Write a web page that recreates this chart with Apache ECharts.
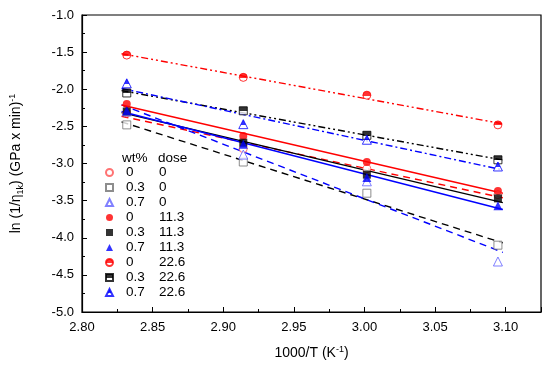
<!DOCTYPE html>
<html>
<head>
<meta charset="utf-8">
<script src="https://cdn.jsdelivr.net/npm/echarts@6/dist/echarts.min.js"></script>
<style>
html,body{margin:0;padding:0;background:#fff;}
#chart{width:550px;height:370px;}
</style>
</head>
<body>
<div id="chart"></div>
<script>
// ---- data ----
const xValues = [2.8317, 2.9142, 3.0017, 3.0945]; // 1000/T
const wtLabels   = ['0', '0.3', '0.7', '0', '0.3', '0.7', '0', '0.3', '0.7'];
const doseLabels = ['0', '0', '0', '11.3', '11.3', '11.3', '22.6', '22.6', '22.6'];
const y_0_0     = [-2.32, -2.80, -3.07, -3.42];
const y_03_0    = [-2.48, -2.98, -3.40, -4.10];
const y_07_0    = [-2.30, -2.88, -3.24, -4.32];
const y_0_113   = [-2.20, -2.63, -2.98, -3.37];
const y_03_113  = [-2.30, -2.72, -3.15, -3.47];
const y_07_113  = [-2.29, -2.74, -3.19, -3.57];
const y_0_226   = [-1.54, -1.84, -2.08, -2.48];
const y_03_226  = [-2.05, -2.29, -2.62, -2.95];
const y_07_226  = [-1.92, -2.47, -2.68, -3.04];
const yTickLabels = ['-5.0','-4.5','-4.0','-3.5','-3.0','-2.5','-2.0','-1.5','-1.0'];
const xTickLabels = ['2.80','2.85','2.90','2.95','3.00','3.05','3.10'];
const fitRange = [2.828, 3.098];

const allY = [y_0_0, y_03_0, y_07_0, y_0_113, y_03_113, y_07_113, y_0_226, y_03_226, y_07_226];

// ---- styles ----
const RED = '#ff0000', BLK = '#000000', BLU = '#0000ff';
const colors = [RED, BLK, BLU, RED, BLK, BLU, RED, BLK, BLU];
const openColors = ['#ff5050', '#707070', '#6060ff'];
const shapes = ['circle', 'rect', 'triangle'];
function halfFill(c) {
  return {type:'linear', x:0, y:0, x2:0, y2:1, colorStops:[
    {offset:0, color:c},{offset:0.55, color:c},{offset:0.55, color:'#fff'},{offset:1, color:'#fff'}]};
}
const dashDotDot = [7,3,2,3,2,3];
const dashDot = [7,3,2,3];
const lineTypes = [[7,5],[7,5],[7,5],'solid','solid','solid',dashDotDot,dashDotDot,dashDot];

function fit(xs, ys) {
  const n = xs.length;
  const mx = xs.reduce((a,b)=>a+b,0)/n, my = ys.reduce((a,b)=>a+b,0)/n;
  let sxy = 0, sxx = 0;
  for (let i=0;i<n;i++){ sxy += (xs[i]-mx)*(ys[i]-my); sxx += (xs[i]-mx)*(xs[i]-mx); }
  const b = sxy/sxx, a = my - b*mx;
  return fitRange.map(x => [x, a + b*x]);
}

const series = [];
const legendNames = [];
allY.forEach((ys, i) => {
  const name = wtLabels[i] + ' ' + doseLabels[i];
  legendNames.push(name);
  series.push({
    name: 'fit' + i, type: 'line', data: fit(xValues, ys), showSymbol: false, symbol: 'none',
    lineStyle: {color: colors[i], width: 1.4, type: lineTypes[i]}, z: 2, silent: true
  });
});
allY.forEach((ys, i) => {
  const name = wtLabels[i] + ' ' + doseLabels[i];
  const k = i % 3, group = Math.floor(i / 3);
  let itemStyle;
  if (group === 0) itemStyle = {color:'#fff', borderColor: openColors[k], borderWidth: 1};
  else if (group === 1) itemStyle = {color: colors[i], borderColor: colors[i], borderWidth: 0};
  else itemStyle = {color: halfFill(colors[i]), borderColor: colors[i], borderWidth: 1};
  series.push({
    name: name, type: 'scatter', symbol: shapes[k], symbolSize: k === 2 ? 9 : 8,
    data: xValues.map((x, j) => [x, ys[j]]), itemStyle: itemStyle, z: 5
  });
});

const FONT = 'Liberation Sans, Arial, sans-serif';
const chart = echarts.init(document.getElementById('chart'), null, {renderer: 'canvas'});
chart.setOption({
  animation: false,
  backgroundColor: '#fff',
  grid: {left: 81, right: 9, top: 15, bottom: 58, show: true, borderColor: '#000', borderWidth: 1.2},
  xAxis: {
    type: 'value', min: 2.80, max: 3.125, interval: 0.05,
    name: '1000/T (K{sup|-1})', nameLocation: 'middle', nameGap: 33,
    nameTextStyle: {fontFamily: FONT, fontSize: 14, color: '#000',
      rich: {sup: {fontSize: 9, verticalAlign: 'top', padding: [0,0,8,0], fontFamily: FONT, color:'#000'}}},
    axisLine: {lineStyle: {color: '#000', width: 1.2}},
    axisTick: {inside: true, length: 5, lineStyle: {color: '#000'}},
    minorTick: {show: true, splitNumber: 2, length: 3, lineStyle: {color: '#000'}},
    axisLabel: {fontFamily: FONT, fontSize: 13, color: '#000', margin: 9, showMaxLabel: false,
      formatter: v => { const s = v.toFixed(2); return xTickLabels.indexOf(s) >= 0 ? s : ''; }},
    splitLine: {show: false}
  },
  yAxis: {
    type: 'value', min: -5, max: -1, interval: 0.5,
    name: 'ln (1/η{sub|1k}) (GPa x min){sup|-1}', nameLocation: 'middle', nameGap: 57, nameRotate: 90,
    nameTextStyle: {fontFamily: FONT, fontSize: 14, color: '#000',
      rich: {sub: {fontSize: 9, verticalAlign: 'bottom', padding: [6,0,0,0], fontFamily: FONT, color:'#000'},
             sup: {fontSize: 9, verticalAlign: 'top', padding: [0,0,8,0], fontFamily: FONT, color:'#000'}}},
    axisLine: {lineStyle: {color: '#000', width: 1.2}},
    axisTick: {inside: true, length: 5, lineStyle: {color: '#000'}},
    minorTick: {show: true, splitNumber: 2, length: 3, lineStyle: {color: '#000'}},
    axisLabel: {fontFamily: FONT, fontSize: 13, color: '#000', margin: 8,
      formatter: v => { const s = v.toFixed(1); return yTickLabels.indexOf(s) >= 0 ? s : ''; }},
    splitLine: {show: false}
  },
  legend: {
    data: legendNames, orient: 'vertical', left: 105, top: 165,
    itemWidth: 7, itemHeight: 7, itemGap: 0, padding: 0,
    textStyle: {fontFamily: FONT, fontSize: 13.5, color: '#000', lineHeight: 15,
      rich: {w: {width: 33, padding: [0,0,0,8], fontFamily: FONT, fontSize: 13.5, color:'#000'},
             d: {fontFamily: FONT, fontSize: 13.5, color:'#000'}}},
    formatter: n => { const p = n.split(' '); return '{w|' + p[0] + '}{d|' + p[1] + '}'; },
    selectedMode: false
  },
  graphic: [
    {type: 'text', left: 122, top: 151, style: {text: 'wt%', font: '13.5px ' + FONT, fill: '#000'}},
    {type: 'text', left: 158, top: 151, style: {text: 'dose', font: '13.5px ' + FONT, fill: '#000'}}
  ],
  series: series
});
</script>
</body>
</html>
